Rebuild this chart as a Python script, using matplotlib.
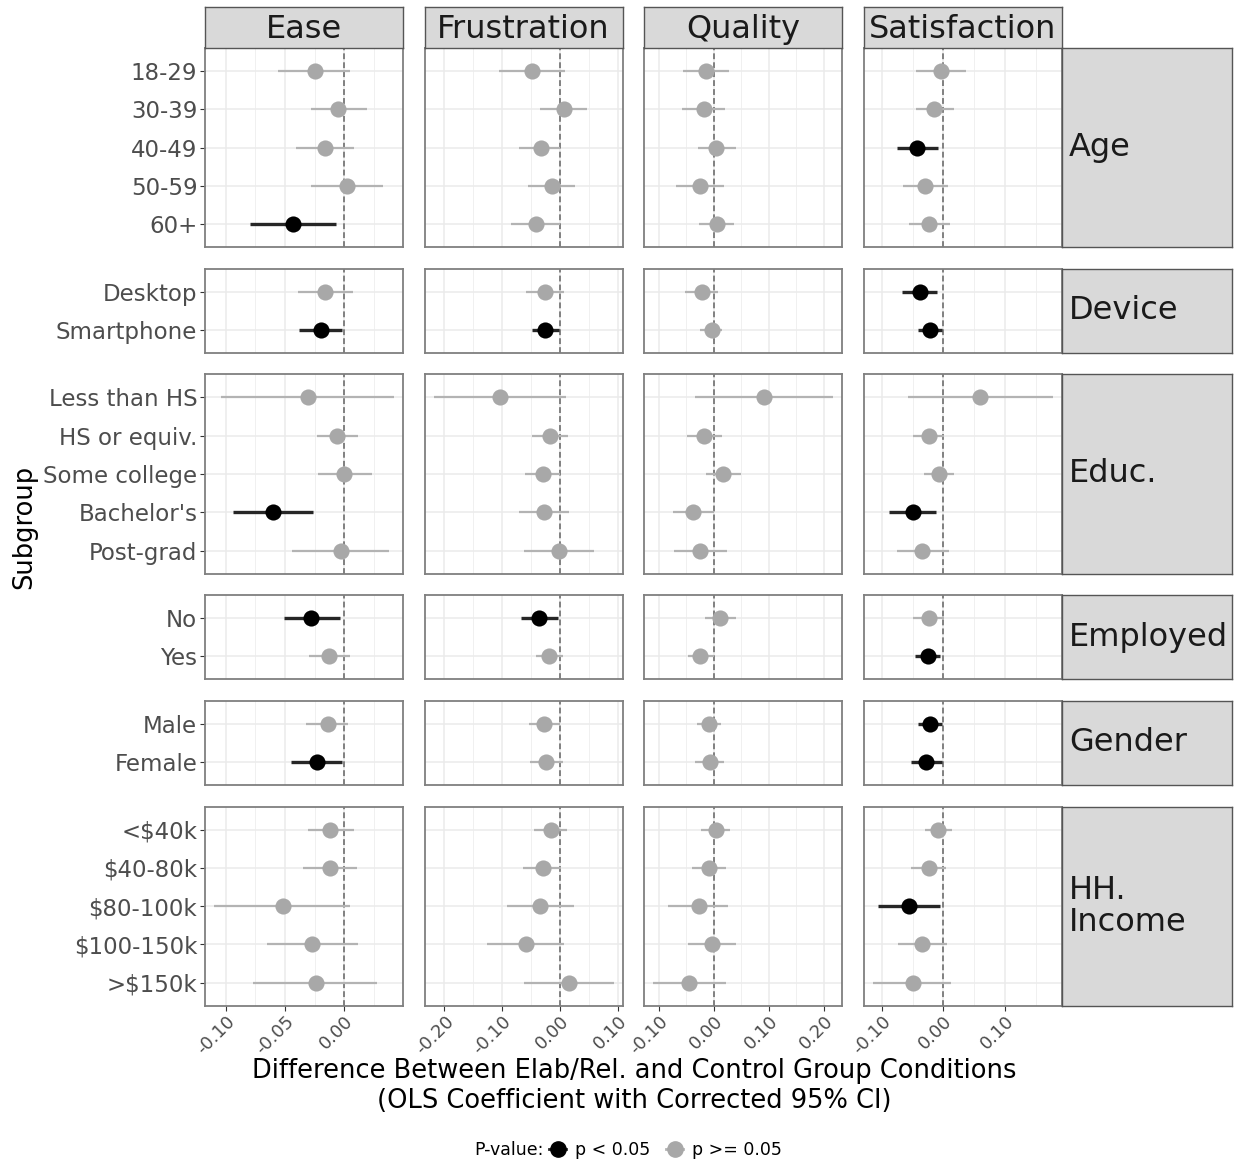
import numpy as np
import matplotlib
matplotlib.use("Agg")
import matplotlib.pyplot as plt
from matplotlib.lines import Line2D
from matplotlib.ticker import MultipleLocator, FormatStrFormatter

# ---------------- data ----------------
outcomes = ['Ease', 'Frustration', 'Quality', 'Satisfaction']
groups = ['Age', 'Device', 'Educ.', 'Employed', 'Gender', 'HH.\nIncome']
levels = [['18-29', '30-39', '40-49', '50-59', '60+'],
          ['Desktop', 'Smartphone'],
          ['Less than HS', 'HS or equiv.', 'Some college', "Bachelor's", 'Post-grad'],
          ['No', 'Yes'],
          ['Male', 'Female'],
          ['<$40k', '$40-80k', '$80-100k', '$100-150k', '>$150k']]

ease_est = [-0.025, -0.005, -0.016, 0.002, -0.043, -0.016, -0.020, -0.031, -0.006, 0.000, -0.060,
            -0.003, -0.028, -0.013, -0.014, -0.023, -0.012, -0.012, -0.052, -0.027, -0.024]
ease_lo = [-0.056, -0.028, -0.041, -0.028, -0.080, -0.039, -0.038, -0.104, -0.023, -0.022, -0.094,
           -0.044, -0.051, -0.030, -0.032, -0.045, -0.031, -0.035, -0.110, -0.065, -0.077]
ease_hi = [0.005, 0.019, 0.008, 0.033, -0.007, 0.007, -0.002, 0.042, 0.012, 0.023, -0.026,
           0.038, -0.004, 0.005, 0.003, -0.002, 0.008, 0.011, 0.005, 0.012, 0.028]
ease_sig = [0, 0, 0, 0, 1, 0, 1, 0, 0, 0, 1, 0, 1, 0, 0, 1, 0, 0, 0, 0, 0]

frus_est = [-0.048, 0.007, -0.033, -0.014, -0.041, -0.025, -0.025, -0.103, -0.017, -0.029, -0.028,
            -0.002, -0.036, -0.019, -0.027, -0.024, -0.016, -0.029, -0.035, -0.059, 0.015]
frus_lo = [-0.105, -0.034, -0.071, -0.055, -0.084, -0.059, -0.049, -0.219, -0.048, -0.060, -0.071,
           -0.062, -0.068, -0.042, -0.054, -0.051, -0.044, -0.064, -0.092, -0.126, -0.063]
frus_hi = [0.009, 0.047, 0.001, 0.027, 0.001, 0.008, -0.002, 0.011, 0.014, 0.001, 0.015,
           0.059, -0.003, 0.006, 0.001, 0.005, 0.012, 0.002, 0.024, 0.008, 0.093]
frus_sig = [0, 0, 0, 0, 0, 0, 1, 0, 0, 0, 0, 0, 1, 0, 0, 0, 0, 0, 0, 0, 0]

qual_est = [-0.014, -0.018, 0.004, -0.024, 0.006, -0.021, -0.003, 0.092, -0.017, 0.018, -0.037,
            -0.024, 0.012, -0.024, -0.009, -0.007, 0.004, -0.009, -0.027, -0.002, -0.044]
qual_lo = [-0.055, -0.057, -0.029, -0.068, -0.026, -0.051, -0.024, -0.034, -0.049, -0.013, -0.074,
           -0.071, -0.015, -0.046, -0.030, -0.033, -0.022, -0.040, -0.082, -0.047, -0.110]
qual_hi = [0.028, 0.021, 0.040, 0.019, 0.038, 0.008, 0.016, 0.217, 0.016, 0.050, 0.001,
           0.025, 0.041, 0.001, 0.013, 0.019, 0.030, 0.022, 0.027, 0.041, 0.023]
qual_sig = [0] * 21

sat_est = [-0.004, -0.015, -0.043, -0.030, -0.023, -0.038, -0.022, 0.059, -0.024, -0.007, -0.050,
           -0.034, -0.023, -0.025, -0.022, -0.028, -0.008, -0.023, -0.056, -0.034, -0.050]
sat_lo = [-0.045, -0.044, -0.076, -0.065, -0.055, -0.067, -0.041, -0.058, -0.050, -0.031, -0.088,
          -0.076, -0.049, -0.046, -0.042, -0.052, -0.030, -0.053, -0.106, -0.074, -0.115]
sat_hi = [0.037, 0.018, -0.009, 0.007, 0.010, -0.010, -0.002, 0.177, 0.001, 0.018, -0.012,
          0.009, 0.001, -0.005, -0.002, -0.003, 0.014, 0.005, -0.005, 0.006, 0.012]
sat_sig = [0, 0, 1, 0, 0, 1, 1, 0, 0, 0, 1, 0, 0, 1, 1, 1, 0, 0, 1, 0, 0]

est = [ease_est, frus_est, qual_est, sat_est]
lo = [ease_lo, frus_lo, qual_lo, sat_lo]
hi = [ease_hi, frus_hi, qual_hi, sat_hi]
sig = [ease_sig, frus_sig, qual_sig, sat_sig]
xstep = [0.05, 0.1, 0.1, 0.1]

# ---------------- layout (pixels) ----------------
W, H = 1236, 1162
fig = plt.figure(figsize=(W / 100, H / 100), dpi=100)

def box(x, y, w, h):
    return [x / W, 1 - (y + h) / H, w / W, h / H]

col_x = [205, 424.5, 644, 863.5]
pw = 198
unit, gap, top = 38.3, 21.5, 48
strip_x, strip_w = 1062, 170

GREY, BLACK = '#a8a8a8', '#000000'
LGREY, DGREY = '#b3b3b3', '#262626'
TXT = '#4d4d4d'

start = 0
y = top
for r, (g, levs) in enumerate(zip(groups, levels)):
    n = len(levs)
    h = (n - 1 + 1.2) * unit
    for c in range(4):
        ax = fig.add_axes(box(col_x[c], y, pw, h))
        e = np.array(est[c][start:start + n])
        l = np.array(lo[c][start:start + n])
        u = np.array(hi[c][start:start + n])
        s = np.array(sig[c][start:start + n], dtype=bool)
        pos = np.arange(n)
        allv = np.concatenate([lo[c], hi[c]])
        span = allv.max() - allv.min()
        ax.set_xlim(allv.min() - 0.05 * span, allv.max() + 0.05 * span)
        ax.set_ylim(n - 1 + 0.6, -0.6)
        ax.xaxis.set_major_locator(MultipleLocator(xstep[c]))
        ax.xaxis.set_minor_locator(MultipleLocator(xstep[c] / 2))
        ax.xaxis.set_major_formatter(FormatStrFormatter('%.2f'))
        ax.set_yticks(pos)
        ax.grid(True, which='major', color='#ebebeb', lw=1.1, zorder=0)
        ax.grid(True, which='minor', axis='x', color='#f0f0f0', lw=0.7, zorder=0)
        ax.set_axisbelow(True)
        ax.axvline(0, color='#808080', lw=1.4, dashes=(3, 1.6), zorder=2)
        ax.hlines(pos[~s], l[~s], u[~s], color=LGREY, lw=1.6, zorder=3)
        ax.hlines(pos[s], l[s], u[s], color=DGREY, lw=2.4, zorder=3)
        ax.scatter(e[~s], pos[~s], s=135, color=GREY, lw=0, zorder=4)
        ax.scatter(e[s], pos[s], s=135, color=BLACK, lw=0, zorder=4)
        for sp in ax.spines.values():
            sp.set_color('#7f7f7f')
            sp.set_linewidth(1.3)
        ax.tick_params(which='both', length=0)
        if c == 0:
            ax.set_yticklabels(levs)
            ax.tick_params(axis='y', length=3.5, width=0.8, color='#333333',
                           labelsize=16.5, labelcolor=TXT, pad=2)
        else:
            ax.set_yticklabels([])
        if r == len(groups) - 1:
            ax.tick_params(axis='x', which='major', length=3.5, width=0.8, color='#333333',
                           labelsize=13, labelcolor=TXT, pad=1)
            for lab in ax.get_xticklabels():
                lab.set_rotation(45)
                lab.set_ha('right')
                lab.set_va('top')
                lab.set_rotation_mode('anchor')
        else:
            ax.set_xticklabels([])
        # column strips
        if r == 0:
            sax = fig.add_axes(box(col_x[c], 7, pw, top - 7))
            sax.set_facecolor('#d9d9d9')
            sax.set_xticks([]); sax.set_yticks([])
            for sp in sax.spines.values():
                sp.set_color('#555555'); sp.set_linewidth(1.0)
            sax.text(0.5, 0.45, outcomes[c], ha='center', va='center', fontsize=23,
                     color='#1a1a1a', transform=sax.transAxes)
    # row strip
    rax = fig.add_axes(box(strip_x, y, strip_w, h))
    rax.set_facecolor('#d9d9d9')
    rax.set_xticks([]); rax.set_yticks([])
    for sp in rax.spines.values():
        sp.set_color('#555555'); sp.set_linewidth(1.0)
    rax.text(7 / strip_w, 0.5, g, ha='left', va='center', fontsize=23, color='#1a1a1a',
             linespacing=1.05, transform=rax.transAxes)
    start += n
    y += h + gap

fig.text(24 / W, 1 - 527 / H, 'Subgroup', rotation=90, ha='center', va='center', fontsize=18.5)
fig.text(634 / W, 1 - 1086 / H,
         'Difference Between Elab/Rel. and Control Group Conditions\n(OLS Coefficient with Corrected 95% CI)',
         ha='center', va='center', fontsize=18.5, linespacing=1.2)

fig.text(544 / W, 1 - 1150 / H, 'P-value:', ha='right', va='center', fontsize=12.5)
handles = [Line2D([], [], color=DGREY, lw=2, marker='o', ms=11, mfc=BLACK, mec=BLACK),
           Line2D([], [], color=LGREY, lw=2, marker='o', ms=11, mfc=GREY, mec=GREY)]
fig.legend(handles, ['p < 0.05', 'p >= 0.05'], loc='center left',
           bbox_to_anchor=(549 / W, 1 - 1150 / H), ncol=2, frameon=False, fontsize=12.5,
           handlelength=1.0, handletextpad=0.5, columnspacing=0.9, borderpad=0, borderaxespad=0)

fig.savefig('out.png', dpi=100)
